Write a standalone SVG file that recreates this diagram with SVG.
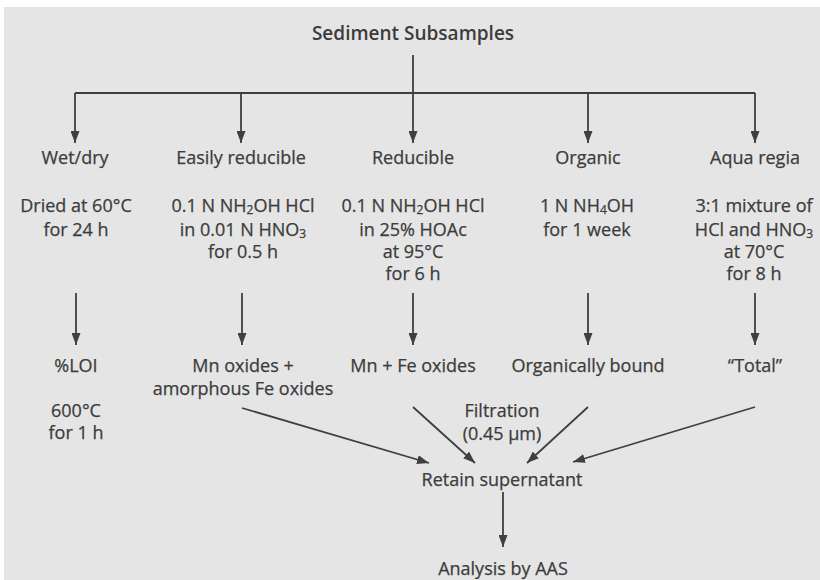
<svg xmlns="http://www.w3.org/2000/svg" width="820" height="580" viewBox="0 0 820 580">
  <defs>
    <marker id="arrow" viewBox="0 0 12 9" refX="12" refY="4.5" markerWidth="12" markerHeight="9" markerUnits="userSpaceOnUse" orient="auto">
      <path d="M0,0 L12,4.5 L0,9 Z" fill="#3f3f3f"/>
    </marker>
    <style>
      .t { font-family: "Open Sans", "Liberation Sans", sans-serif; font-size: 18px; fill: #3c3c3c; stroke: #3c3c3c; stroke-width: 0.25; text-anchor: middle; }
      .title { font-size: 19px; font-weight: 600; stroke-width: 0; }
      .sub { font-size: 12px; baseline-shift: -2px; }
      .link { fill: none; stroke: #3f3f3f; stroke-width: 1.8; }
      .arr { fill: none; stroke: #3f3f3f; stroke-width: 1.8; marker-end: url(#arrow); }
    </style>
  </defs>

  <rect x="0" y="0" width="820" height="580" fill="#ffffff"/>
  <rect x="4" y="7" width="816" height="573" fill="#e5e5e5"/>

  <!-- connectors -->
  <g id="connectors">
    <path class="link" d="M413,55 V93 M75,93 H755"/>
    <path class="arr" d="M75,93 V143"/>
    <path class="arr" d="M241,93 V143"/>
    <path class="arr" d="M413,93 V143"/>
    <path class="arr" d="M588,93 V143"/>
    <path class="arr" d="M755,93 V143"/>

    <path class="arr" d="M76,293 V345"/>
    <path class="arr" d="M242,293 V345"/>
    <path class="arr" d="M413,293 V345"/>
    <path class="arr" d="M588,293 V345"/>
    <path class="arr" d="M755,293 V345"/>

    <path class="arr" d="M242,408 L429,463"/>
    <path class="arr" d="M413,407 L475,463"/>
    <path class="arr" d="M588,407 L527,463"/>
    <path class="arr" d="M755,407 L573,462"/>

    <path class="arr" d="M503,492 V547"/>
  </g>

  <g id="root">
    <text class="t title" x="413" y="40">Sediment Subsamples</text>
  </g>

  <g id="wetdry">
    <text class="t" x="75" y="164">Wet/dry</text>
    <text class="t" x="76" y="212">Dried at 60°C</text>
    <text class="t" x="76" y="236">for 24 h</text>
  </g>

  <g id="easily-reducible">
    <text class="t" x="241" y="164">Easily reducible</text>
    <text class="t" x="243" y="212">0.1 N NH<tspan class="sub">2</tspan>OH HCl</text>
    <text class="t" x="243" y="236">in 0.01 N HNO<tspan class="sub">3</tspan></text>
    <text class="t" x="243" y="258">for 0.5 h</text>
  </g>

  <g id="reducible">
    <text class="t" x="413" y="164">Reducible</text>
    <text class="t" x="413" y="212">0.1 N NH<tspan class="sub">2</tspan>OH HCl</text>
    <text class="t" x="413" y="236">in 25% HOAc</text>
    <text class="t" x="413" y="258">at 95°C</text>
    <text class="t" x="413" y="280">for 6 h</text>
  </g>

  <g id="organic">
    <text class="t" x="588" y="164">Organic</text>
    <text class="t" x="587" y="212">1 N NH<tspan class="sub">4</tspan>OH</text>
    <text class="t" x="587" y="236">for 1 week</text>
  </g>

  <g id="aqua-regia">
    <text class="t" x="755" y="164">Aqua regia</text>
    <text class="t" x="754" y="212">3:1 mixture of</text>
    <text class="t" x="754" y="236">HCl and HNO<tspan class="sub">3</tspan></text>
    <text class="t" x="754" y="258">at 70°C</text>
    <text class="t" x="754" y="280">for 8 h</text>
  </g>

  <g id="loi">
    <text class="t" x="76" y="372">%LOI</text>
    <text class="t" x="76" y="417">600°C</text>
    <text class="t" x="76" y="439">for 1 h</text>
  </g>

  <g id="mn-oxides">
    <text class="t" x="243" y="372">Mn oxides +</text>
    <text class="t" x="243" y="395">amorphous Fe oxides</text>
  </g>

  <g id="mn-fe-oxides">
    <text class="t" x="413" y="372">Mn + Fe oxides</text>
  </g>

  <g id="organically-bound">
    <text class="t" x="588" y="372">Organically bound</text>
  </g>

  <g id="total">
    <text class="t" x="755" y="372">“Total”</text>
  </g>

  <g id="filtration">
    <text class="t" x="502" y="417">Filtration</text>
    <text class="t" x="502" y="440">(0.45 µm)</text>
  </g>

  <g id="retain">
    <text class="t" x="502" y="486">Retain supernatant</text>
  </g>

  <g id="analysis">
    <text class="t" x="503" y="575">Analysis by AAS</text>
  </g>
</svg>
